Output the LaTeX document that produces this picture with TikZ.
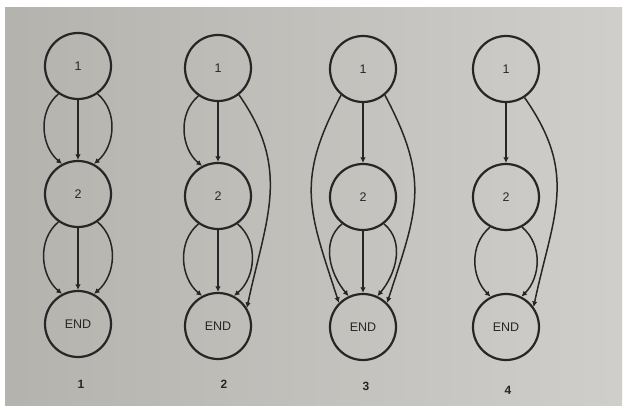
\documentclass[tikz,border=0pt]{standalone}
\usepackage{fontspec}
\setmainfont{Liberation Sans}
\usetikzlibrary{arrows.meta}
\definecolor{paper}{RGB}{192,190,185}
\definecolor{ink}{RGB}{40,38,37}

\begin{document}
\begin{tikzpicture}[x=1pt,y=1pt,
  state/.style={circle,draw=ink,line width=2.2pt,minimum size=66pt,inner sep=0pt,
    font=\fontsize{12.5}{14}\selectfont,text=ink},
  flow/.style={draw=ink,line width=1.5pt,-{Latex[length=5.5pt,width=5.5pt]}},
  caption/.style={font=\bfseries\fontsize{12}{14}\selectfont,text=ink}]
\useasboundingbox (0,0) rectangle (625,-406);
\fill [white] (0,0) rectangle (625,-406);
\shade [left color=paper!94!black,right color=paper!75!white] (5,-8) rectangle (622,-406);

% the four graphs: 1 -> 2 -> END
\foreach \g/\x/\d in {1/78/0, 2/218/2, 3/363/3, 4/506/3}{
  \node [state] (t\g) at (\x,-66-\d) {1};
  \node [state] (m\g) at (\x,-194-\d) {2};
  \node [state] (e\g) at (\x,-324-\d) {END};
}
\node [caption] (c1) at (81,-384) {1};
\node [caption] (c2) at (224,-384) {2};
\node [caption] (c3) at (366,-386) {3};
\node [caption] (c4) at (508,-390) {4};

% graph 1
\draw [flow] (t1) -- (m1);
\draw [flow] (t1.-125) to [out=-140,in=140] (m1.118);
\draw [flow] (t1.-55) to [out=-40,in=40] (m1.62);
\draw [flow] (m1) -- (e1);
\draw [flow] (m1.-125) to [out=-140,in=140] (e1.118);
\draw [flow] (m1.-55) to [out=-40,in=40] (e1.62);

% graph 2
\draw [flow] (t2) -- (m2);
\draw [flow] (t2.-125) to [out=-140,in=140] (m2.118);
\draw [flow] (m2) -- (e2);
\draw [flow] (m2.-125) to [out=-140,in=140] (e2.118);
\draw [flow] (m2.-55) to [out=-40,in=40] (e2.62);
\draw [flow] (t2.-52) to [out=-55,in=78,looseness=1.1] (e2.32);

% graph 3
\draw [flow] (t3) -- (m3);
\draw [flow] (m3) -- (e3);
\draw [flow] (m3.-128) to [out=-140,in=130] (e3.115);
\draw [flow] (m3.-52) to [out=-40,in=50] (e3.65);
\draw [flow] (t3.-130) to [out=-118,in=108,looseness=1.2] (e3.135);
\draw [flow] (t3.-50) to [out=-62,in=72,looseness=1.2] (e3.45);

% graph 4
\draw [flow] (t4) -- (m4);
\draw [flow] (m4.-118) to [out=-140,in=135] (e4.117);
\draw [flow] (m4.-62) to [out=-40,in=45] (e4.63);
\draw [flow] (t4.-57) to [out=-55,in=78,looseness=1.15] (e4.36);
\end{tikzpicture}
\end{document}
